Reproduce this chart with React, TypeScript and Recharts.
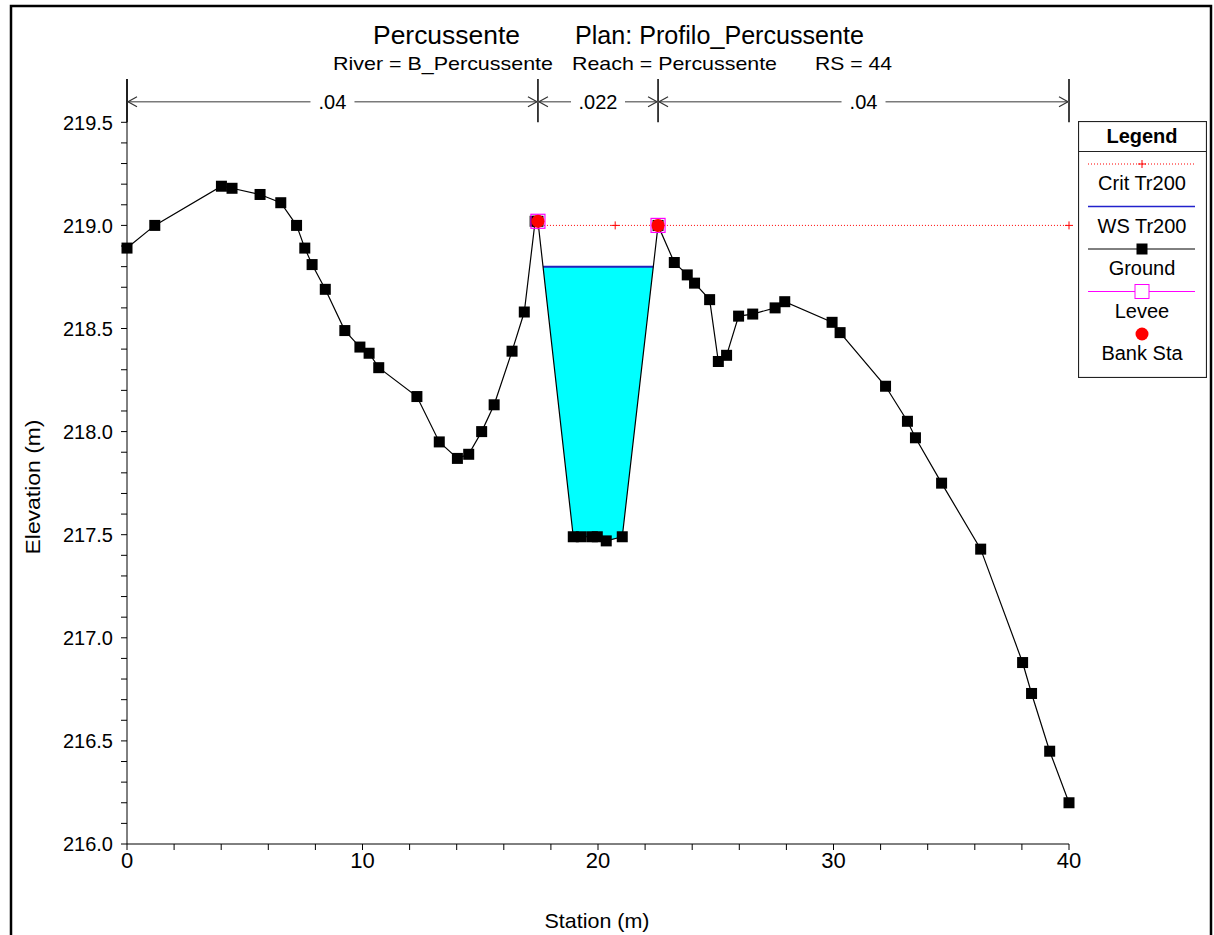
import React from 'react'
import { ComposedChart, Line, Area, XAxis, YAxis, Legend, ReferenceLine } from 'recharts'

// ground profile, RS = 44
const stations = [
  0, 1.18, 4.01, 4.46, 5.65, 6.53, 7.2, 7.55, 7.86, 8.42,
  9.25, 9.89, 10.28, 10.69, 12.31, 13.26, 14.03, 14.51, 15.06, 15.59,
  16.35, 16.87, 17.33, 17.45, 18.95, 19.29, 19.76, 19.97, 20.35, 21.03,
  22.55, 23.24, 23.79, 24.1, 24.74, 25.11, 25.46, 25.97, 26.57, 27.52,
  27.93, 29.94, 30.28, 32.21, 33.14, 33.48, 34.59, 36.25, 38.03, 38.41,
  39.18, 40,
]
const elevations = [
  218.89, 219.0, 219.19, 219.18, 219.15, 219.11, 219.0, 218.89, 218.81, 218.69,
  218.49, 218.41, 218.38, 218.31, 218.17, 217.95, 217.87, 217.89, 218.0, 218.13,
  218.39, 218.58, 219.02, 219.02, 217.49, 217.49, 217.49, 217.49, 217.47, 217.49,
  219.0, 218.82, 218.76, 218.72, 218.64, 218.34, 218.37, 218.56, 218.57, 218.6,
  218.63, 218.53, 218.48, 218.22, 218.05, 217.97, 217.75, 217.43, 216.88, 216.73,
  216.45, 216.2,
]

const wsElevation = 218.8
const critStations = [17.45, 20.73, 22.55, 40]
const critElevation = 219.0
const bankStations = [17.45, 22.55]
const bankElevations = [219.02, 219.0]

const nBounds = [0, 17.45, 22.55, 40]
const nValues = ['.04', '.022', '.04']

const yTicks = Array.from({ length: 36 }, (_, i) => Number((216 + i * 0.1).toFixed(1)))
const xTicks = Array.from({ length: 21 }, (_, i) => i * 2)

const groundData = stations.map((s, i) => ({ s, e: elevations[i] }))
const critData = critStations.map((s) => ({ s, e: critElevation }))
const bankData = bankStations.map((s, i) => ({ s, e: bankElevations[i] }))

// water surface inside main channel, cut against the ground line
function buildWater() {
  const i0 = stations.indexOf(bankStations[0])
  const i1 = stations.indexOf(bankStations[1])
  const pts: { s: number; band: [number, number] }[] = []
  for (let i = i0; i < i1; i++) {
    const s0 = stations[i], e0 = elevations[i]
    const s1 = stations[i + 1], e1 = elevations[i + 1]
    if (e0 < wsElevation && i > i0) pts.push({ s: s0, band: [e0, wsElevation] })
    if ((e0 - wsElevation) * (e1 - wsElevation) < 0) {
      const t = (wsElevation - e0) / (e1 - e0)
      const sx = s0 + t * (s1 - s0)
      pts.push({ s: sx, band: [wsElevation, wsElevation] })
    }
  }
  return pts
}
const waterData = buildWater()
const wsData = [
  { s: waterData[0].s, e: wsElevation },
  { s: waterData[waterData.length - 1].s, e: wsElevation },
]

const narrow = '"Liberation Sans Narrow", "Arial Narrow", Arial, sans-serif'
const sans = 'Arial, "Liberation Sans", Helvetica, sans-serif'

const SquareDot = (props: any) => {
  const { cx, cy, index } = props
  if (cx == null || cy == null) return <g key={index} />
  return <rect key={index} x={cx - 5.5} y={cy - 5.5} width={11} height={11} fill="#000" />
}

const LeveeDot = (props: any) => {
  const { cx, cy, index } = props
  if (cx == null || cy == null) return <g key={index} />
  return <rect key={index} x={cx - 7} y={cy - 7} width={14} height={14} fill="none" stroke="#ff00ff" strokeWidth={1.2} />
}

const BankDot = (props: any) => {
  const { cx, cy, index } = props
  if (cx == null || cy == null) return <g key={index} />
  return <circle key={index} cx={cx} cy={cy} r={6.5} fill="#ff0000" />
}

const PlusDot = (props: any) => {
  const { cx, cy, index } = props
  if (cx == null || cy == null) return <g key={index} />
  return (
    <g key={index} stroke="#ff0000" strokeWidth={1}>
      <line x1={cx - 4} y1={cy} x2={cx + 4} y2={cy} />
      <line x1={cx} y1={cy - 4} x2={cx} y2={cy + 4} />
    </g>
  )
}

const YTick = (props: any) => {
  const { x, y, payload } = props
  const v = payload.value
  if (Math.round(v * 10) % 5 !== 0) return <g />
  return (
    <text x={x} y={y} dy="0.36em" textAnchor="end" fontFamily={sans} fontSize={20} fill="#000">
      {v.toFixed(1)}
    </text>
  )
}

const XTick = (props: any) => {
  const { x, y, payload } = props
  const v = payload.value
  if (v % 10 !== 0) return <g />
  return (
    <text x={x} y={y} dy="0.72em" textAnchor="middle" fontFamily={narrow} fontSize={22} fill="#000">
      {v}
    </text>
  )
}

// arrow with n value between two bank lines
function nArrow(label: string) {
  return (p: any) => {
    const { x1, y1, x2 } = p
    const mid = (x1 + x2) / 2
    const w = label.length * 10 + 14
    const c = '#7a7a7a'
    return (
      <g>
        <line x1={x1} y1={y1} x2={mid - w / 2} y2={y1} stroke={c} strokeWidth={1.6} />
        <line x1={mid + w / 2} y1={y1} x2={x2} y2={y1} stroke={c} strokeWidth={1.6} />
        <polyline points={`${x1 + 10},${y1 - 5} ${x1 + 1},${y1} ${x1 + 10},${y1 + 5}`} fill="none" stroke="#333" strokeWidth={1.2} />
        <polyline points={`${x2 - 10},${y1 - 5} ${x2 - 1},${y1} ${x2 - 10},${y1 + 5}`} fill="none" stroke="#333" strokeWidth={1.2} />
        <text x={mid} y={y1} dy="0.36em" textAnchor="middle" fontFamily={sans} fontSize={20} fill="#000">
          {label}
        </text>
      </g>
    )
  }
}

const legendItems = [
  { name: 'Crit Tr200', kind: 'crit' },
  { name: 'WS Tr200', kind: 'ws' },
  { name: 'Ground', kind: 'ground' },
  { name: 'Levee', kind: 'levee' },
  { name: 'Bank Sta', kind: 'bank' },
]

function LegendBox() {
  return (
    <svg width={129} height={257} style={{ display: 'block' }}>
      <rect x={0.5} y={0.5} width={128} height={256} fill="#fff" stroke="#222" strokeWidth={1.2} />
      <line x1={0.5} y1={30.5} x2={128.5} y2={30.5} stroke="#222" strokeWidth={1.2} />
      <text x={64} y={15} dy="0.36em" textAnchor="middle" fontFamily={sans} fontWeight="bold" fontSize={20}>
        Legend
      </text>
      {legendItems.map((it, i) => {
        const ly = 43 + i * 42.5
        const ty = ly + 19
        const mx = 64
        return (
          <g key={it.name}>
            {it.kind === 'crit' && (
              <g>
                <line x1={10} y1={ly} x2={117} y2={ly} stroke="#ff0000" strokeDasharray="1 2" />
                <line x1={mx - 4} y1={ly} x2={mx + 4} y2={ly} stroke="#ff0000" />
                <line x1={mx} y1={ly - 4} x2={mx} y2={ly + 4} stroke="#ff0000" />
              </g>
            )}
            {it.kind === 'ws' && <line x1={10} y1={ly} x2={117} y2={ly} stroke="#2222cc" strokeWidth={1.5} />}
            {it.kind === 'ground' && (
              <g>
                <line x1={10} y1={ly} x2={117} y2={ly} stroke="#000" />
                <rect x={mx - 5.5} y={ly - 5.5} width={11} height={11} fill="#000" />
              </g>
            )}
            {it.kind === 'levee' && (
              <g>
                <line x1={10} y1={ly} x2={117} y2={ly} stroke="#ff00ff" />
                <rect x={mx - 7} y={ly - 7} width={14} height={14} fill="#fff" stroke="#ff00ff" />
              </g>
            )}
            {it.kind === 'bank' && <circle cx={mx} cy={ly} r={6.5} fill="#ff0000" />}
            <text x={mx} y={ty} dy="0.36em" textAnchor="middle" fontFamily={sans} fontSize={20} fill="#000">
              {it.name}
            </text>
          </g>
        )
      })}
    </svg>
  )
}

export default function App() {
  return (
    <div style={{ position: 'absolute', left: 0, top: 0, width: 1214, height: 935, background: '#fff' }}>
      <ComposedChart
        width={1214}
        height={935}
        margin={{ top: 79, right: 145, bottom: 51, left: 0 }}
      >
        <XAxis
          dataKey="s"
          type="number"
          domain={[0, 40]}
          ticks={xTicks}
          interval={0}
          height={40}
          tickSize={6}
          tickMargin={2}
          stroke="#000"
          tick={<XTick />}
        />
        <YAxis
          type="number"
          domain={[216, 219.71]}
          ticks={yTicks}
          interval={0}
          width={127}
          tickSize={6}
          tickMargin={8}
          stroke="#000"
          tick={<YTick />}
        />
        <Area
          data={waterData}
          dataKey="band"
          type="linear"
          fill="#00ffff"
          fillOpacity={1}
          stroke="none"
          isAnimationActive={false}
          legendType="none"
        />
        <Line data={wsData} dataKey="e" name="WS Tr200" stroke="#2222bb" strokeWidth={2} dot={false} isAnimationActive={false} />
        <Line data={groundData} dataKey="e" name="Ground" stroke="#000" strokeWidth={1.2} dot={<SquareDot />} isAnimationActive={false} />
        <Line data={critData} dataKey="e" name="Crit Tr200" stroke="#ff0000" strokeWidth={1} strokeDasharray="1 2" dot={<PlusDot />} isAnimationActive={false} />
        <Line data={bankData} dataKey="e" name="Levee" stroke="none" dot={<LeveeDot />} isAnimationActive={false} />
        <Line data={bankData} dataKey="e" name="Bank Sta" stroke="none" dot={<BankDot />} isAnimationActive={false} />
        {nBounds.map((b) => (
          <ReferenceLine
            key={'b' + b}
            segment={[{ x: b, y: 219.5 }, { x: b, y: 219.71 }]}
            stroke="#000"
            strokeWidth={1.5}
            ifOverflow="visible"
          />
        ))}
        {nValues.map((n, i) => (
          <ReferenceLine
            key={'n' + i}
            segment={[{ x: nBounds[i], y: 219.6 }, { x: nBounds[i + 1], y: 219.6 }]}
            ifOverflow="visible"
            shape={nArrow(n)}
          />
        ))}
        <Legend
          layout="vertical"
          align="center"
          verticalAlign="middle"
          content={() => <LegendBox />}
          wrapperStyle={{ position: 'absolute', left: 1078, top: 121, width: 129, height: 257 }}
        />
      </ComposedChart>
      <svg
        width={1214}
        height={935}
        style={{ position: 'absolute', left: 0, top: 0, pointerEvents: 'none' }}
      >
        <rect x={11} y={6} width={1200} height={940} fill="none" stroke="#000" strokeWidth={2.5} />
        <text x={373} y={44} fontFamily={narrow} fontSize={25} textLength={147} lengthAdjust="spacingAndGlyphs">
          Percussente
        </text>
        <text x={575} y={44} fontFamily={narrow} fontSize={25} textLength={289} lengthAdjust="spacingAndGlyphs">
          Plan: Profilo_Percussente
        </text>
        <text x={333} y={70} fontFamily={narrow} fontSize={19} textLength={220} lengthAdjust="spacingAndGlyphs">
          River = B_Percussente
        </text>
        <text x={572} y={70} fontFamily={narrow} fontSize={19} textLength={205} lengthAdjust="spacingAndGlyphs">
          Reach = Percussente
        </text>
        <text x={815} y={70} fontFamily={narrow} fontSize={19} textLength={77} lengthAdjust="spacingAndGlyphs">
          RS = 44
        </text>
        <text x={597} y={928} textAnchor="middle" fontFamily={narrow} fontSize={21} textLength={105} lengthAdjust="spacingAndGlyphs">
          Station (m)
        </text>
        <text
          x={32}
          y={487}
          transform="rotate(-90 32 487)"
          dy="0.36em"
          textAnchor="middle"
          fontFamily={narrow}
          fontSize={21}
          textLength={135}
          lengthAdjust="spacingAndGlyphs"
        >
          Elevation (m)
        </text>
      </svg>
    </div>
  )
}
